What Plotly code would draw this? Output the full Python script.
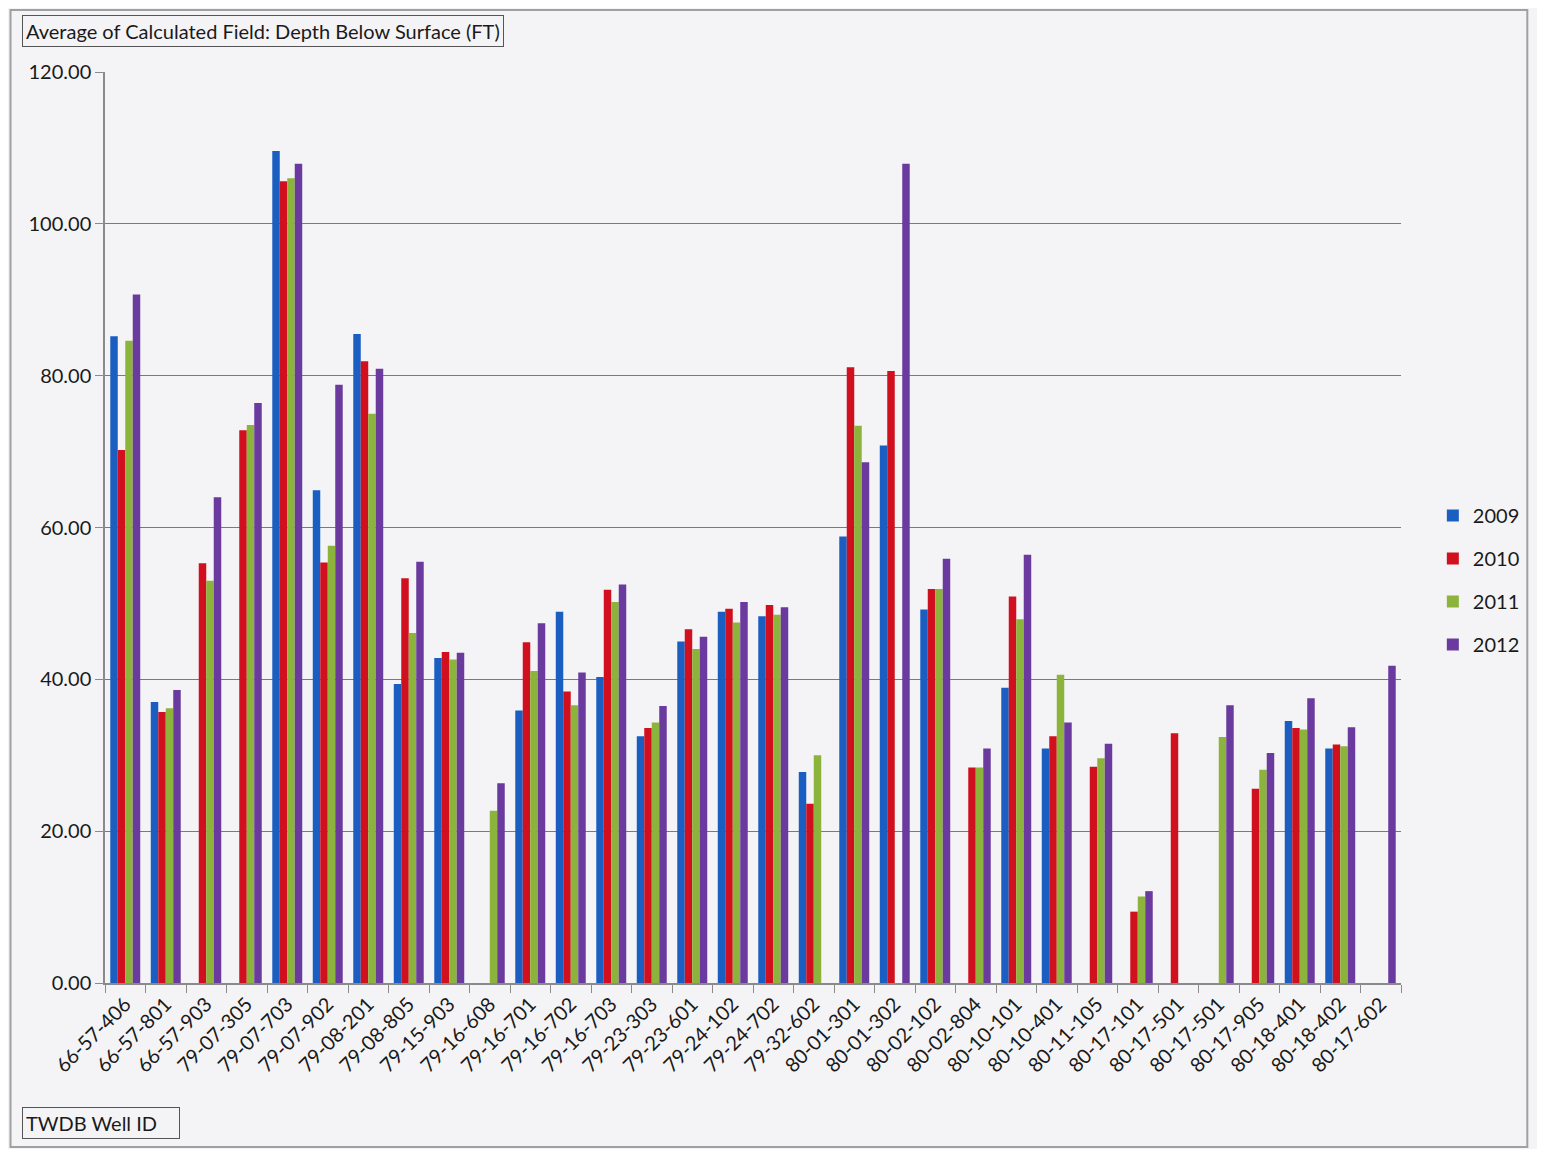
import plotly.graph_objects as go

wells = ["66-57-406", "66-57-801", "66-57-903", "79-07-305", "79-07-703", "79-07-902",
         "79-08-201", "79-08-805", "79-15-903", "79-16-608", "79-16-701", "79-16-702",
         "79-16-703", "79-23-303", "79-23-601", "79-24-102", "79-24-702", "79-32-602",
         "80-01-301", "80-01-302", "80-02-102", "80-02-804", "80-10-101", "80-10-401",
         "80-11-105", "80-17-101", "80-17-501", "80-17-501", "80-17-905", "80-18-401",
         "80-18-402", "80-17-602"]

y2009 = [85.2, 37.0, None, None, 109.6, 64.9, 85.5, 39.4, 42.8, None, 35.9, 48.9,
         40.3, 32.5, 45.0, 48.9, 48.3, 27.8, 58.8, 70.8, 49.2, None, 38.9, 30.9,
         None, None, None, None, None, 34.5, 30.9, None]
y2010 = [70.2, 35.7, 55.3, 72.8, 105.6, 55.4, 81.9, 53.3, 43.6, None, 44.9, 38.4,
         51.8, 33.6, 46.6, 49.3, 49.8, 23.6, 81.1, 80.6, 51.9, 28.4, 50.9, 32.5,
         28.5, 9.4, 32.9, None, 25.6, 33.6, 31.4, None]
y2011 = [84.6, 36.2, 53.0, 73.5, 106.0, 57.6, 75.0, 46.1, 42.6, 22.7, 41.1, 36.6,
         50.2, 34.3, 44.0, 47.5, 48.5, 30.0, 73.4, None, 51.9, 28.4, 47.9, 40.6,
         29.6, 11.4, None, 32.4, 28.1, 33.4, 31.2, None]
y2012 = [90.7, 38.6, 64.0, 76.4, 107.9, 78.8, 80.9, 55.5, 43.5, 26.3, 47.4, 40.9,
         52.5, 36.5, 45.6, 50.2, 49.5, None, 68.6, 107.9, 55.9, 30.9, 56.4, 34.3,
         31.5, 12.1, None, 36.6, 30.3, 37.5, 33.7, 41.8]

years = ["2009", "2010", "2011", "2012"]
series = [y2009, y2010, y2011, y2012]
colors = ["#1b5ec2", "#d0101e", "#8cb43c", "#6a3a9e"]

FONT = "Lato"
OFF = 8                      # page body margin
W, H = 1545 - 2 * OFF, 1157 - 2 * OFF
# plot area in page pixels
L, R, T, B = 105, 1408, 72, 983

def px(x):
    return (x - L) / (R - L)

def py(y):
    return (B - y) / (B - T)

xs = list(range(len(wells)))

fig = go.Figure()
for name, vals, col in zip(years, series, colors):
    fig.add_trace(go.Bar(x=xs, y=vals, name=name, marker_color=col,
                         marker_line_width=0, legendgroup=name))

fig.update_layout(
    width=W, height=H,
    margin=dict(l=L - OFF, r=W - (R - OFF), t=T - OFF, b=H - (B - OFF)),
    paper_bgcolor="#f4f4f6", plot_bgcolor="#f4f4f6",
    font=dict(family=FONT, size=20, color="#1a1a1a"),
    barmode="group", bargap=0.26, bargroupgap=0,
    showlegend=True,
    legend=dict(x=px(1440), y=py(580), xanchor="left", yanchor="middle",
                font=dict(size=20), tracegroupgap=14, bgcolor="rgba(0,0,0,0)"),
    xaxis=dict(range=[-0.5, len(wells) - 0.5], tickmode="array", tickvals=xs,
               ticktext=wells, tickangle=-45, ticks="", showgrid=False,
               showline=True, linecolor="#8a8a8a", linewidth=1.5, zeroline=False,
               tickfont=dict(size=20),
               minor=dict(tickmode="array", tickvals=[i - 0.5 for i in range(len(wells) + 1)],
                          ticks="outside", ticklen=8, tickcolor="#8a8a8a", showgrid=False)),
    yaxis=dict(range=[0, 120], dtick=20, tickformat=".2f", ticks="outside", ticklen=8,
               tickcolor="#8a8a8a", showline=True, linecolor="#8a8a8a", linewidth=1.5,
               showgrid=True, gridcolor="#7a7a7a", gridwidth=1, zeroline=False,
               tickfont=dict(size=20)),
)

# outer frame
fig.add_shape(type="rect", xref="paper", yref="paper",
              x0=px(10), x1=px(1535), y0=py(1147), y1=py(10),
              line=dict(color="#a0a0a0", width=2), fillcolor="rgba(0,0,0,0)", layer="below")

fig.add_annotation(text="Average of Calculated Field: Depth Below Surface (FT)",
                   xref="paper", yref="paper", x=px(22), y=py(15),
                   xanchor="left", yanchor="top", showarrow=False,
                   font=dict(size=20, family=FONT, color="#1a1a1a"),
                   bordercolor="#555555", borderwidth=1, borderpad=3,
                   bgcolor="#f4f4f6")
fig.add_annotation(text="TWDB Well ID",
                   xref="paper", yref="paper", x=px(22), y=py(1107),
                   xanchor="left", yanchor="top", showarrow=False, width=150, align="left",
                   font=dict(size=20, family=FONT, color="#1a1a1a"),
                   bordercolor="#555555", borderwidth=1, borderpad=3,
                   bgcolor="#f4f4f6")

fig.write_html("out.html")
